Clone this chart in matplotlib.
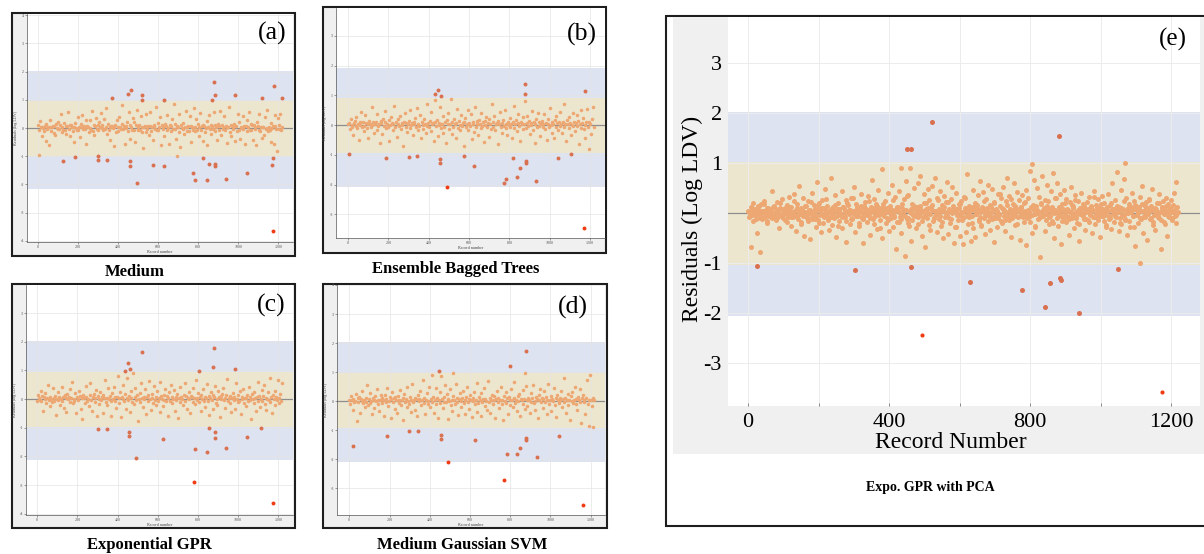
import numpy as np
import matplotlib.pyplot as plt
from matplotlib.patches import Rectangle
from matplotlib.ticker import MultipleLocator

plt.rcParams['font.family'] = ['Liberation Serif', 'DejaVu Serif']
plt.rcParams['axes.unicode_minus'] = False

W, H = 1204, 554

# residuals of the bulk of the records, in 0.01 log LDV
# (a)-(d): every 4th record, (e): every 2nd record plus the in-between ones
resid_a = [
    10, -6, 25, 3, -30, 4, 1, -12, 8, -45, 15, -3, 2, -60, 5, 30, -10, 2, 6, -18,
    7, -25, 14, 0, -4, 22, -5, 11, 48, -14, 3, -8, 18, -8, 6, -20, 6, 55, -2, 12,
    -28, 9, 5, -11, 4, -50, 17, 1, -6, 40, -7, 4, -33, 13, 2, 45, -2, 8, -4, 30,
    -55, 6, 5, -13, 28, 0, -8, 62, -9, 9, -26, 7, 37, -3, 10, -7, 21, 4, 52, -1,
    11, -6, 33, -3, 3, 70, -21, 14, -8, 5, -42, 6, 8, -1, -65, 4, 9, -15, 29, 2,
    -12, 38, 5, -5, 80, 15, -4, 7, -58, 8, 1, 22, -10, 58, -40, 12, 4, -8, 35, -6,
    20, -50, 9, 65, -8, 2, 10, -8, 42, -13, 3, -72, 5, 6, -15, 50, -4, 7, -26, 8,
    55, -12, 3, -44, 8, 11, -2, 75, -7, 16, -6, 4, 40, -60, 10, 2, -2, -29, 14, 7,
    -7, 46, 1, -55, 9, 6, -9, 32, -4, 85, 14, -5, -40, 7, 3, -13, 50, -68, 9, 1,
    -3, 16, -22, 2, 60, -11, 5, 8, -11, 43, -48, 8, 5, -6, 70, -9, 2, 31, -7, 15,
    4, -27, 52, -8, 7, -45, 10, 8, -14, 1, 24, -60, 3, 45, -4, 9, -21, 6, -3, 55,
    -10, 9, 3, -42, 13, 8, -6, 62, -25, 11, 2, -5, 41, -7, 6, -52, 3, 5, 74, -13,
    9, -30, 7, -2, 14, -47, 6, 6, -9, 50, -8, 21, -38, 2, 0, 43, -4, 7, -55, 8,
    30, -11, 4, 57, -8, 15, -6, 9, -44, 10, 5, -3, -62, 20, 8, -7, 48, -9, 3, -34,
    2, 5, -26, 40, -2, 65, 1, -10, 3, -7, 17, -50, 1, 8, -58, 6, 45, -5, -80, 35,
    12, -2, 50, -8, 5,
]
resid_b = [
    3, 8, -12, 20, -5, 1, -35, 6, 14, -2, 28, -9, 4, -50, 10, 0, 45, -6, 11, -20,
    -3, 33, 7, -10, 2, -42, 15, 5, -7, 60, -1, 12, -25, 4, 9, -15, 38, -4, 2, -60,
    13, 6, -30, 22, -2, 9, 48, -11, 3, -8, 17, -55, 1, 26, 7, -18, 5, 65, -6, 10,
    -40, 4, 19, -3, 30, -14, 8, 0, -70, 12, 40, -5, 6, -22, 2, 15, -9, 52, -1, 7,
    -33, 11, 3, 24, -7, 58, -16, 5, -2, 35, -45, 9, 1, -12, 20, 4, -28, 70, -4, 8,
    -8, 14, 45, -20, 2, 6, -52, 10, 85, -3, 18, -38, 7, 1, 62, -10, 4, -25, 30, -6,
    9, -60, 16, 3, 40, -13, 5, 88, -30, 11, -5, 22, 2, -45, 8, 55, -9, 14, 1, -18,
    33, -4, 6, -70, 12, 25, -8, 3, 50, -15, 7, -2, 36, -48, 10, 4, -22, 60, -6, 13,
    2, -33, 18, 5, -10, 42, -3, 9, -58, 15, 1, 28, -7, 6, -40, 20, 3, -12, 70, -5,
    11, 30, -17, 4, 8, -62, 13, 2, 45, -8, 6, -25, 18, -3, 52, -11, 5, -35, 9, 1,
    -6, 24, 4, -44, 12, 65, -9, 3, 16, -20, 7, 38, -2, -55, 10, 5, 27, -14, 2, 80,
    -10, 8, 32, -4, 14, -30, 6, 1, 48, -18, 9, -60, 3, 20, -7, 42, 11, -2, -38, 5,
    15, -5, 2, 36, -12, 7, -50, 4, 22, -8, 58, 1, -25, 10, 3, -42, 17, -6, 30, 6,
    -15, 9, 45, -3, 5, -28, 12, 70, -7, 2, -52, 18, 4, 26, -10, 8, -35, 1, 40, -4,
    11, -20, 6, 33, -2, 15, -62, 3, 50, -9, 7, 24, -14, 1, -45, 10, 55, -6, -80, 12,
    4, -30, 20, 60, -8,
]
resid_c = [
    -8, 15, 4, -2, 30, -5, 10, -40, 6, 1, 20, -12, 3, 50, -4, -25, 8, 2, -10, 38,
    5, -6, 12, -55, 2, 25, -3, 9, -20, 0, 42, -8, 7, -30, 14, 3, -45, 18, -1, 6,
    35, -10, 4, 60, -15, 2, -6, 22, -50, 8, 1, -4, 28, 11, -33, 5, -70, 16, 3, -12,
    9, 45, -7, 2, -25, 13, 55, -2, -40, 6, 18, -9, 4, 32, -60, 10, 1, -16, 24, -3,
    7, -48, 15, 3, 65, -11, 5, -22, 38, -1, 12, -5, -58, 20, 2, 44, -8, 6, -30, 9,
    80, -14, 3, 26, -62, 8, 1, 50, -6, 17, -35, 4, 72, -2, 11, -45, 5, 30, -9, 90,
    -18, 6, 40, -4, 13, -75, 2, 22, -10, 55, 3, -28, 9, -1, 35, -52, 7, 15, -6, 62,
    1, -38, 19, 5, -12, 46, -3, 8, -20, 28, -7, 4, 60, -44, 10, 2, -25, 14, -2, 37,
    -5, 11, -60, 3, 24, -8, 50, 6, -15, 1, 32, -40, 9, -3, 18, -65, 4, 42, -11, 7,
    2, -22, 15, 58, -6, 10, -33, 4, 26, -1, -48, 12, 7, 40, -9, 3, -18, 68, 5, -2,
    20, -10, 6, -42, 14, 1, 35, -5, 9, -28, 3, 52, -7, 11, -55, 4, 24, -3, 16, -36,
    8, 45, -12, 2, -20, 30, 6, -62, 10, -1, 17, 38, -4, 5, -30, 13, 70, -8, 3, -15,
    11, -45, 4, 22, -2, 9, -35, 55, 1, -10, 16, -6, 28, -52, 7, 2, 36, -14, 5, -24,
    3, 14, -8, 42, -3, 6, -70, 19, 1, 26, -12, 4, -40, 9, 60, -5, 12, -28, 2, 33,
    -7, 10, 48, -16, 5, -38, 2, 24, -4, 72, -9, 8, -50, 13, 1, 30, -20, 6, -2, 65,
    4, -12, 18, -6, 55,
]
resid_d = [
    4, -12, 18, 2, -30, 8, -5, 1, 25, -70, 10, -3, 14, -40, 6, 0, 35, -8, 3, -20,
    12, -2, 55, -15, 7, -6, 28, 1, -45, 9, 4, -25, 16, -1, 40, -10, 5, -35, 2, 20,
    -8, 11, 3, -50, 22, -4, 6, 45, -18, 1, 13, -60, 7, 30, -2, 9, -28, 15, 3, -42,
    18, -6, 4, 38, -13, 2, -65, 10, 25, -3, 7, -22, 48, 1, -9, 14, -38, 5, 60, -4,
    2, -30, 11, 6, -52, 20, -1, 8, 33, -15, 4, 72, -7, 12, -45, 3, 27, -10, 1, 50,
    -20, 7, 90, -5, 15, -40, 3, 44, -12, 9, -58, 2, 30, -8, 85, 6, -25, 13, -2, 55,
    -3, 24, -62, 8, 1, 40, -15, 5, -35, 18, 2, -9, 60, -4, 11, -48, 6, 28, -1, -20,
    9, 36, -6, 3, -44, 14, 50, -2, 7, -28, 20, 4, -55, 10, 1, 32, -11, 5, -38, 62,
    -7, 15, 2, -50, 26, -3, 8, 44, -17, 6, 1, -30, 70, -5, 12, -42, 4, 22, -9, 3,
    16, -58, 7, 35, -2, 10, -25, 3, 48, -12, 5, -66, 19, 1, 30, -6, 9, -45, 13, 2,
    -14, 40, 4, -22, 11, 65, -8, 3, -36, 17, 1, 24, -50, 7, 2, 38, -11, 6, -28, 52,
    5, -18, 12, 3, -40, 28, -4, 9, 55, -7, 1, -32, 15, 6, -60, 20, 2, 42, -5, 10,
    -25, 8, 33, -3, 14, -46, 4, 60, -10, 2, 18, -35, 6, 1, 45, -15, 9, -55, 22, 3,
    -6, 12, 2, 35, -20, 7, 78, -4, 11, -42, 3, 25, -13, 5, -65, 16, 1, 30, -8, 4,
    50, -12, 6, -30, 14, 2, 40, -5, -75, 9, 20, -2, 5, -45, 11, 72, -9, 3, -85, 88,
    4, -18, 10, -88, 2,
]
resid_e = [
    5, -8, 2, 12, 2, -4, -15, 20, 7, -3, 9, -1, -40, 14, 6, 1, -6, -10, 18, -12, 3, 4, 25, -7, -2, 7, 11, -20, 10, -5,
    -5, 3, 8, 45, -9, 0, 15, 0, -6, -14, 22, 4, 6, -30, -3, 11, -4, 9, 28, -10, -2, 2, 8, 13, -18, 16, -8, -1, 33, 5,
    -25, 12, 1, -7, 38, -5, 4, -35, 7, 19, -11, -2, 55, 0, 10, -22, 9, -6, 30, -45, 3, 14, -3, -9, 24, -16, 6, 6, -52, -1,
    41, -8, 2, 17, 2, -12, -28, 62, 8, -13, 21, -4, 5, -38, 11, 27, -19, -7, 11, 48, 3, -6, 15, -10, -33, 3, 6, 70, -24, -2,
    13, -9, 4, 36, -47, -6, 8, 20, 9, -15, 1, -3, 44, -29, 12, 10, -4, -8, 26, -58, 2, 16, 7, 5, -21, 31, -11, -12, 4, 1,
    52, -37, 7, 18, -2, -5, 9, -26, 3, 39, 14, -9, -8, -60, 10, 23, 5, -2, -17, 34, 6, 0, -43, -7, 12, 66, 4, -11, 28, -3,
    -6, 19, 8, -31, 47, -4, 3, -14, 11, 88, -50, -1, 10, 25, 5, -20, 6, -10, 40, -35, 2, 15, -9, 7, 57, -27, -6, 2, 33, 9,
    -72, 12, 4, 45, -18, -7, 90, -40, 10, 7, 29, -3, -85, 64, 6, -12, 36, -9, -25, 91, 1, -55, 18, 8, -3, 50, -5, -30, 8, 12,
    60, -22, -4, 14, 75, 7, -45, 5, -8, 38, -67, 3, 21, -10, 11, 48, 27, -2, -33, 12, 6, 55, -15, -9, 70, -5, 4, 30, -38, 1,
    9, 44, -6, -26, 16, 5, -50, 35, 12, -8, 22, -3, 62, -41, 8, 4, -19, -11, 29, 52, 2, -60, 11, 7, -28, 40, -4, -13, 18, 10,
    -46, 25, 3, -7, -62, -9, 33, 10, 6, -38, 78, -2, -21, 14, 9, -55, 6, -5, 47, -30, 13, 20, -48, -1, 2, 37, 8, -16, 65, -7,
    -25, 12, 5, 43, -9, -3, -42, 28, 10, 3, 56, -6, -34, 17, 2, -11, 48, 7, -58, 23, -9, 8, -27, 4, 39, -4, -2, 15, 31, 11,
    -19, 52, -5, 7, -36, 3, 24, 70, -8, -14, 35, 6, 1, -47, -2, 18, 60, 9, -24, 10, -6, 42, -7, 4, 26, -53, 12, 13, 37, -3,
    -8, 21, 5, -63, 46, -10, 4, 30, 2, -18, 85, -4, -40, 16, 8, 67, -28, -1, 9, 50, 6, -12, 33, -7, -88, 20, 3, 74, -5, 10,
    27, -35, -2, 14, 57, 7, -22, 8, -5, 44, -15, 11, 80, -50, 1, 31, 3, -9, 61, -26, 4, 12, 38, -6, -61, 19, 9, -9, 46, -3,
    -17, 29, 5, 6, -43, -8, 22, 53, 2, -10, 15, 10, -30, 36, -4, 2, -20, 7, 25, -56, -1, 11, 40, 6, -6, 18, -11, -34, 9, 3,
    23, -13, 8, 32, -4, -2, 14, -39, 5, 7, 45, -7, -21, 16, 12, -8, 28, 1, -47, 10, -5, 3, 35, 9, -15, 20, -3, -27, 5, 4,
    38, -11, -6, 17, -31, 8, 60, 4, -2, -18, 26, 11, -7, 82, 3, -36, 13, -9, 47, -22, 6, 9, 68, -4, -14, 30, 1, -44, 6, 10,
    19, -28, 2, 11, 41, -6, -5, 24, 8, -66, 14, -3, 3, -19, 12, 33, -10, 5, 55, -40, -8, 16, -3, 7, 22, -53, -1, 8, 28, 4,
    -12, 15, 6, 49, -24, -4, 6, -33, 9, 20, 2, -7, -9, 38, 3, -71, 12, 10, 25, -17, -2, 4, 31, 5, -46, 18, -8, -6, 11, 2,
    27, -14, 3, 40, 7, -5, -20, 62, 1, 3,
]
resid_e2 = [
    3, -6, 10, -2, 7, -12, 1, 15, -4, 5, -9, 18, 0, -15, 6, 2, -7, 12, -3, 8,
    -10, 4, 20, -5, 1, 9, -14, 6, -1, 13, -8, 2, 25, -6, 11, -3, 4, -18, 7, 0,
    14, -2, -9, 5, 22, -11, 3, 8, -6, 16, -20, 1, 10, -4, 6, 28, -13, 2, -7, 11,
    -3, 17, 5, -25, 9, 0, -8, 13, 4, -16, 21, -2, 7, -10, 30, 3, -5, 12, -19, 6,
    1, -12, 15, 8, -4, 24, -9, 2, 10, -22, 5, 14, -1, -30, 7, 19, -6, 3, 11, -14,
    9, -3, 26, -8, 4, -17, 12, 0, -11, 18, 6, -5, 35, -20, 2, 9, -13, 15, -2, 5,
    -7, 13, 3, -15, 20, -4, 8, 1, -24, 11, 16, -9, 4, -2, 27, -12, 6, -18, 10, 2,
    -5, 22, -10, 7, 0, 14, -27, 5, 9, -3, 18, -14, 2, 31, -6, 11, -8, 4, -20, 13,
    6, -1, 16, -11, 3, -23, 10, 25, -4, 7, -15, 1, 12, -7, 21, -2, 5, -10, 38, -16,
    8, 2, -13, 17, -5, 9, 28, -9, 0, 14, -21, 4, -6, 11, 3, -17, 23, -3, 6, -8,
    12, -4, 7, -26, 15, 1, -10, 19, 5, -2, 9, -14, 24, -7, 2, 13, -19, 6, 30, -5,
    -1, 10, -16, 4, 21, -6, 8, -12, 3, 16, -3, 26, -9, 1, -22, 11, 5, -4, 14, -11,
    7, -18, 2, 12, -8, 33, -2, 6, -14, 9, 18, -5, 0, -24, 13, 4, -9, 20, -1, 8,
    -6, 15, 3, -19, 10, -3, 24, -11, 5, 1, -15, 12, 7, -28, 16, -4, 9, 2, -12, 19,
    4, -8, 13, -2, 27, -10, 6, -17, 11, 0, -5, 20, -13, 3, 8, -21, 14, -6, 2, 10,
    -9, 16, 3, -4, 12,
]

# large residuals (record number, log LDV)
out_a_rec = [450, 462, 368, 520, 520, 627, 870, 880, 883, 985, 1120, 1178, 1217, 5, 122, 183, 300, 300,
             345, 458, 457, 492, 573, 627, 693, 772, 783, 822, 842, 855, 883, 883, 937, 1042, 1167, 1175, 1172]
out_a_res = [1.21, 1.35, 1.06, 1.18, 1.01, 1.0, 1.01, 1.62, 1.16, 1.18, 1.08, 1.48, 1.07, -0.96, -1.16, -1.02,
             -1.0, -1.15, -1.14, -1.16, -1.34, -1.94, -1.32, -1.35, -0.99, -1.61, -1.85, -1.08, -1.85, -1.29,
             -1.26, -1.34, -1.81, -1.58, -1.32, -1.06, -3.65]
out_b_rec = [432, 448, 460, 877, 877, 1174, 5, 190, 301, 344, 458, 456, 491, 574, 625, 772, 782, 818, 840,
             851, 881, 881, 934, 1041, 1107, 1169]
out_b_res = [1.06, 1.18, 0.98, 1.38, 1.03, 1.15, -0.97, -1.11, -1.06, -1.03, -1.13, -1.26, -2.1, -1.03,
             -1.37, -1.94, -1.8, -1.12, -1.75, -1.43, -1.21, -1.26, -1.88, -1.1, -0.97, -3.48]
out_c_rec = [450, 435, 460, 522, 805, 880, 877, 983, 303, 347, 457, 458, 493, 628, 778, 783, 843, 855, 883,
             883, 938, 1043, 1112, 1172]
out_c_res = [1.25, 0.98, 1.04, 1.64, 0.99, 1.79, 1.13, 1.04, -1.04, -1.05, -1.16, -1.27, -2.06, -1.38, -2.88,
             -1.73, -1.85, -1.0, -1.16, -1.34, -1.71, -1.31, -1.0, -3.62]
out_d_rec = [446, 517, 799, 876, 874, 20, 189, 299, 343, 456, 456, 489, 623, 771, 783, 836, 849, 879, 879,
             932, 1040, 1164]
out_d_res = [1.03, 0.97, 1.2, 1.71, 0.97, -1.54, -1.2, -1.03, -1.03, -1.17, -1.31, -2.11, -1.33, -2.74, -1.82,
             -1.84, -1.61, -1.26, -1.33, -1.94, -1.2, -3.57]
out_e_rec = [522, 451, 463, 882, 1068, 804, 494, 1174, 304, 24, 461, 629, 776, 857, 843, 885, 888, 938,
             1048, 1113, 7, 33]
out_e_res = [1.81, 1.28, 1.28, 1.55, 1.0, 0.99, -2.43, -3.57, -1.13, -1.06, -1.08, -1.37, -1.53, -1.40,
             -1.88, -1.30, -1.33, -2.0, -1.12, -1.0, -0.67, -0.78]

BLUE = '#dde3f1'
TAN = '#ede6cf'
C_IN = '#eda772'
C_MID = '#d9704f'
C_OUT = '#f03c14'
GRAY_BG = '#f0f0f0'


def px_box(x0, y0, x1, y1):
    return [x0 / W, 1 - y1 / H, (x1 - x0) / W, (y1 - y0) / H]


def frame(x0, y0, x1, y1, face):
    fig.add_artist(Rectangle((x0 / W, 1 - y1 / H), (x1 - x0) / W, (y1 - y0) / H,
                             transform=fig.transFigure, facecolor=face,
                             edgecolor='#1e1e1e', lw=1.5, zorder=-2))


def residual_scatter(ax, rec, res, tan, blue, s_in, s_out, s_red):
    in_tan = (res >= tan[0]) & (res <= tan[1])
    in_blue = (res >= blue[0]) & (res <= blue[1]) & ~in_tan
    beyond = ~(in_tan | in_blue)
    ax.axhspan(blue[0], blue[1], color=BLUE, lw=0, zorder=0.2)
    ax.axhspan(tan[0], tan[1], color=TAN, lw=0, zorder=0.3)
    ax.axhline(0, color='#8d8d8d', lw=0.9, zorder=2)
    ax.scatter(rec[in_tan], res[in_tan], s=s_in, color=C_IN, lw=0, zorder=3)
    ax.scatter(rec[in_blue], res[in_blue], s=s_out, color=C_MID, lw=0, zorder=4)
    ax.scatter(rec[beyond], res[beyond], s=s_red, color=C_OUT, lw=0, zorder=4)


def small_panel(box, axpos, xlim, ylim, tan, blue, resid, out_rec, out_res,
                tag, tag_xy, title, title_xy):
    frame(*box, GRAY_BG)
    ax = fig.add_axes(px_box(*axpos))
    rec = np.concatenate([1 + 4 * np.arange(len(resid)), out_rec])
    res = np.concatenate([np.array(resid) / 100.0, out_res])
    residual_scatter(ax, rec, res, tan, blue, 6.5, 8, 8)
    ax.set_xlim(*xlim)
    ax.set_ylim(*ylim)
    ax.xaxis.set_major_locator(MultipleLocator(200))
    ax.yaxis.set_major_locator(MultipleLocator(1))
    ax.grid(True, color='#e4e4e4', lw=0.5)
    ax.set_axisbelow(True)
    for side in ['top', 'right']:
        ax.spines[side].set_visible(False)
    for side in ['left', 'bottom']:
        ax.spines[side].set_color('#555555')
        ax.spines[side].set_linewidth(0.5)
    ax.tick_params(labelsize=3, colors='#555555', length=1.2, width=0.4, pad=1)
    ax.set_ylabel('Residuals (log LDV)', fontsize=3, color='#444444', labelpad=1.5)
    ax.set_xlabel('Record number', fontsize=3, color='#444444', labelpad=0.5)
    fig.text(tag_xy[0] / W, 1 - tag_xy[1] / H, tag, fontsize=18.5,
             ha='center', va='center')
    fig.text(title_xy[0] / W, 1 - title_xy[1] / H, title, fontsize=12,
             fontweight='bold', ha='center', va='center')


fig = plt.figure(figsize=(W / 100, H / 100), dpi=100)

small_panel((12, 13, 295, 256), (27, 14, 293, 242), (-56, 1273), (-4.04, 4.04),
            (-0.99, 0.95), (-2.16, 2.02), resid_a, out_a_rec, out_a_res,
            '(a)', (272, 33), 'Medium', (135, 272))
small_panel((323, 7, 606, 253), (336, 8, 605, 238), (-60, 1274), (-3.8, 3.94),
            (-0.95, 0.9), (-2.07, 1.93), resid_b, out_b_rec, out_b_res,
            '(b)', (582, 34), 'Ensemble Bagged Trees', (456, 269))
small_panel((12, 284, 295, 528), (26, 285, 293, 515), (-56, 1273), (-4.04, 3.98),
            (-0.97, 0.93), (-2.13, 2.02), resid_c, out_c_rec, out_c_res,
            '(c)', (271, 305), 'Exponential GPR', (149, 545))
small_panel((323, 284, 607, 528), (337, 285, 605, 515), (-61, 1271), (-3.93, 4.0),
            (-0.93, 0.97), (-2.1, 2.03), resid_d, out_d_rec, out_d_res,
            '(d)', (573, 307), 'Medium Gaussian SVM', (462, 545))

# (e) larger panel
frame(666, 16, 1216, 526, 'white')
fig.add_artist(Rectangle((673 / W, 1 - 454 / H), 543 / W, 437 / H,
                         transform=fig.transFigure, facecolor=GRAY_BG, lw=0, zorder=-1))
axe = fig.add_axes(px_box(728, 17, 1200, 406))
rec_e = np.concatenate([1 + 2 * np.arange(len(resid_e)), 2 + 4 * np.arange(len(resid_e2)), out_e_rec])
res_e = np.concatenate([np.array(resid_e) / 100.0, np.array(resid_e2) / 100.0, out_e_res])
residual_scatter(axe, rec_e, res_e, (-1.04, 1.02), (-2.05, 2.02), 13, 13, 9)
axe.set_xlim(-57, 1282)
axe.set_ylim(-3.86, 3.92)
axe.set_xticks(np.arange(0, 1201, 200))
axe.set_xticklabels(['0', '', '400', '', '800', '', '1200'])
axe.set_yticks(np.arange(-3, 4))
axe.set_yticklabels(['-3', '-2', '-1', '', '1', '2', '3'])
axe.grid(True, color='#ececec', lw=0.7)
axe.set_axisbelow(True)
for side in axe.spines.values():
    side.set_visible(False)
axe.tick_params(axis='x', direction='in', length=2, width=0.6, color='#777777',
                labelsize=16, pad=5)
axe.tick_params(axis='y', length=0, labelsize=16, pad=4.5)
fig.text(951 / W, 1 - 448 / H, 'Record Number', fontsize=17, ha='center', va='baseline')
fig.text(692 / W, 1 - 219 / H, 'Residuals (Log LDV)', fontsize=17, rotation=90,
         ha='center', va='center')
fig.text(1173 / W, 1 - 39 / H, '(e)', fontsize=18, ha='center', va='center')
fig.text(930 / W, 1 - 487 / H, 'Expo. GPR with PCA', fontsize=10, fontweight='bold',
         ha='center', va='center')

fig.savefig('out.png', dpi=100)
